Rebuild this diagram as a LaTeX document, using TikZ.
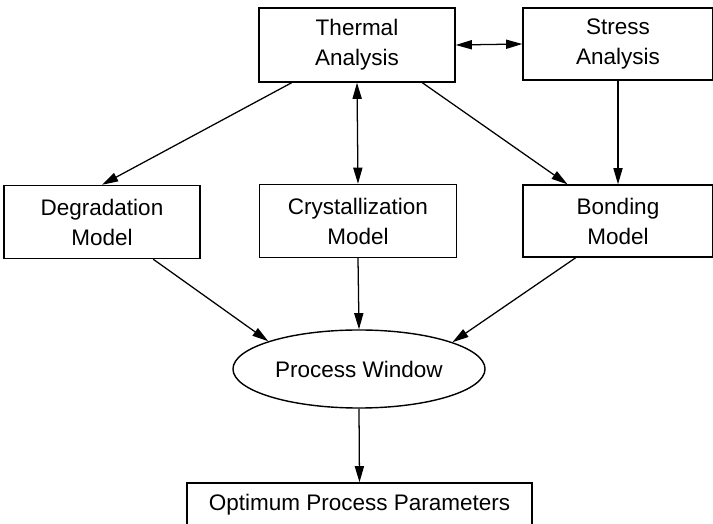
\documentclass[tikz,border=0pt]{standalone}
\usepackage{fontspec}
\setmainfont{Liberation Sans}
\usetikzlibrary{shapes.geometric,arrows.meta}

\begin{document}
\begin{tikzpicture}[x=0.025cm, y=-0.025cm,
    box/.style={draw, line width=1pt, align=center, inner sep=0pt,
        font=\fontsize{16pt}{21.3pt}\selectfont},
    window/.style={box, ellipse, minimum width=6.3cm, minimum height=1.95cm},
    link/.style={line width=0.9pt, -{Triangle[length=11.5pt,width=6.5pt]}},
    twoway/.style={line width=0.9pt,
        {Triangle[length=11.5pt,width=6.5pt]}-{Triangle[length=11.5pt,width=6.5pt]}}]
    \useasboundingbox (0,0) rectangle (713,524);

    % analyses
    \node[box, minimum width=4.9cm, minimum height=1.85cm] (thermal) at (357,45) {Thermal\\Analysis};
    \node[box, minimum width=4.75cm, minimum height=1.8cm] (stress) at (618,44) {Stress\\Analysis};

    % models
    \node[box, minimum width=4.9cm, minimum height=1.825cm] (degrad) at (102,222) {Degradation\\Model};
    \node[box, minimum width=4.925cm, minimum height=1.825cm] (cryst) at (358,221) {Crystallization\\Model};
    \node[box, minimum width=4.75cm, minimum height=1.8cm] (bond) at (618,221) {Bonding\\Model};

    % window and result (bottom edge runs off the page)
    \node[window] (win) at (359,369) {Process Window};
    \node[box, minimum width=8.625cm, minimum height=1.1cm] (optimum) at (359.5,505) {Optimum Process Parameters};

    % arrows
    \draw[twoway] (thermal.east) -- (stress.west);
    \draw[link] (thermal.-150) -- (degrad.north);
    \draw[twoway] (thermal.south) -- (cryst.north);
    \draw[link] (thermal.-30) -- (bond.144);
    \draw[link] (stress.south) -- (bond.north);
    \draw[link] (degrad.-36) -- (win.163);
    \draw[link] (cryst.south) -- (win.north);
    \draw[link] (bond.-139) -- (win.16.5);
    \draw[link] (win.south) -- (optimum.north);
\end{tikzpicture}
\end{document}
